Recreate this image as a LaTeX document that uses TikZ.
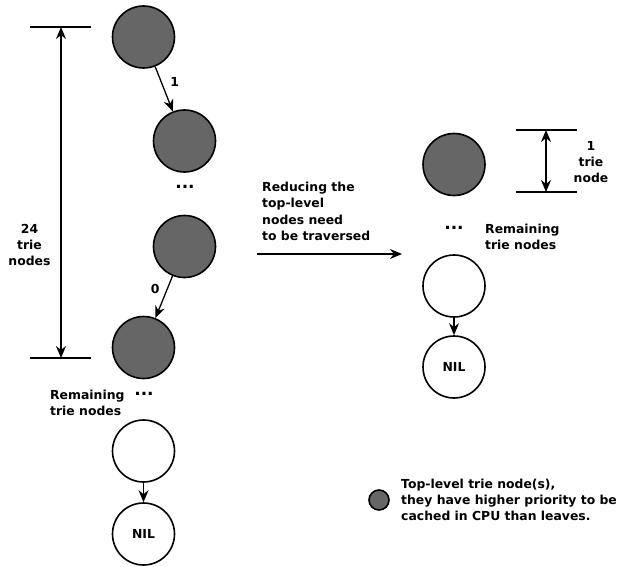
\documentclass[tikz,border=0pt]{standalone}
\usepackage{fontspec}
\setmainfont{DejaVu Sans}
\usetikzlibrary{arrows.meta}
\definecolor{topfill}{HTML}{666666}
\begin{document}
\begin{tikzpicture}[x=1pt,y=-1pt,
  font=\bfseries\fontsize{12.4}{16.3}\selectfont,
  topnode/.style={circle,draw,line width=1.6pt,fill=topfill,minimum size=62pt,inner sep=0pt},
  leafnode/.style={circle,draw,line width=1.6pt,fill=white,minimum size=62pt,inner sep=0pt},
  dots/.style={font=\bfseries\fontsize{17}{17}\selectfont,inner sep=0pt},
  link/.style={line width=1.3pt,-{Stealth[length=12pt,width=10pt]}},
  dimline/.style={line width=1.3pt,{Stealth[length=12pt,width=10pt]}-{Stealth[length=12pt,width=10pt]}},
  tick/.style={line width=1.3pt},
  txt/.style={align=left,inner sep=0pt}]
\useasboundingbox (0,0) rectangle (624,567);

% left trie: path of top-level nodes
\node[topnode] (a1) at (143.5,37) {};
\node[topnode] (a2) at (184.5,141) {};
\node[dots] (d1) at (185,187) {...};
\node[topnode] (a3) at (184.5,246.5) {};
\node[topnode] (a4) at (143.5,347.5) {};
\node[txt,anchor=west] (rem1) at (50,403) {Remaining\\trie nodes};
\node[dots] (d2) at (144,394) {...};
\node[leafnode] (a5) at (143.5,451) {};
\node[leafnode] (a6) at (143.5,534) {NIL};

\draw[link] (a1) -- node[right=5pt,pos=0.35] {1} (a2);
\draw[link] (a3) -- node[left=4pt,pos=0.3] {0} (a4);
\draw[link] (a5) -- (a6);

% depth of the top-level path
\coordinate (t1a) at (30,27);
\coordinate (t1b) at (91,27);
\coordinate (t2a) at (30,358);
\coordinate (t2b) at (91,358);
\draw[tick] (t1a) -- (t1b);
\draw[tick] (t2a) -- (t2b);
\coordinate (v1) at (61,27);
\coordinate (v2) at (61,358);
\draw[dimline] (v1) -- (v2);
\node[align=center,inner sep=0pt] (lab24) at (29.5,245) {24\\trie\\nodes};

% transformation arrow
\coordinate (r1) at (257,254);
\coordinate (r2) at (402,254);
\draw[link] (r1) -- (r2);
\node[txt,anchor=north west] (red) at (262,182) {Reducing the\\top-level\\nodes need\\to be traversed};

% right trie
\node[topnode] (b1) at (454,164.5) {};
\node[dots] (d3) at (454,228) {...};
\node[txt,anchor=west] (rem2) at (485,237) {Remaining\\trie nodes};
\node[leafnode] (b2) at (454,286) {};
\node[leafnode] (b3) at (454,367) {NIL};
\draw[link] (b2) -- (b3);

\coordinate (s1a) at (516,130);
\coordinate (s1b) at (577,130);
\coordinate (s2a) at (516,192);
\coordinate (s2b) at (577,192);
\draw[tick] (s1a) -- (s1b);
\draw[tick] (s2a) -- (s2b);
\coordinate (w1) at (546,130);
\coordinate (w2) at (546,192);
\draw[dimline] (w1) -- (w2);
\node[align=center,inner sep=0pt] (lab1) at (591,162) {1\\trie\\node};

% legend
\node[circle,draw,line width=1.6pt,fill=topfill,minimum size=20pt,inner sep=0pt] (key) at (379,500) {};
\node[txt,anchor=west] (keytxt) at (401,500) {Top-level trie node(s),\\they have higher priority to be\\cached in CPU than leaves.};
\end{tikzpicture}
\end{document}
